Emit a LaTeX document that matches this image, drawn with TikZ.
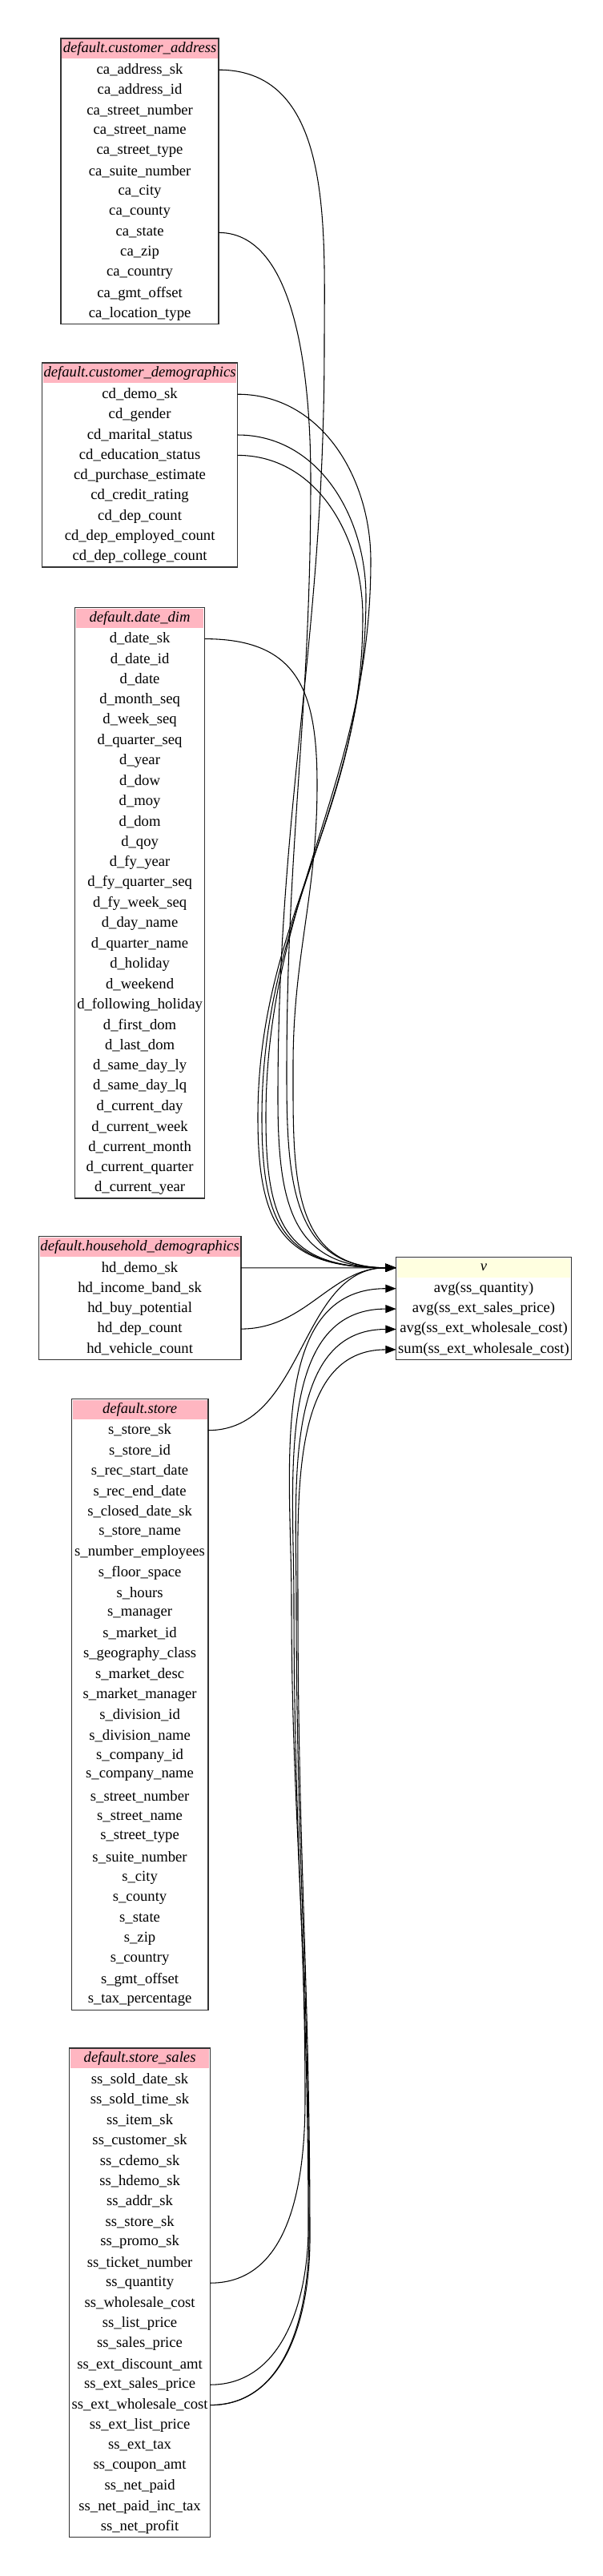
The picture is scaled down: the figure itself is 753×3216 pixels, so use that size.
\documentclass[tikz,border=0pt]{standalone}
\usepackage{fontspec}
\setmainfont{Liberation Serif}
\usetikzlibrary{positioning,arrows.meta}
\definecolor{lightpink}{HTML}{FFB6C1}
\definecolor{lightyellow}{HTML}{FFFFE0}
\newcommand{\tblfont}{\fontsize{14pt}{16pt}\selectfont}

\begin{document}
\begin{tikzpicture}[
    x=0.75pt, y=0.75pt,
    every node/.style={font=\tblfont, inner sep=0pt, outer sep=0pt},
    hdr/.style={anchor=north, minimum height=19.875pt, fill=lightpink, draw=white, line width=2pt, font=\tblfont\itshape},
    fld/.style={minimum height=19.05pt},
    tbl/.style={draw=black!80, line width=1pt},
    edge/.style={-{Triangle[length=10pt,width=7.5pt]}, line width=0.8pt}
]
    \useasboundingbox (0,0) rectangle (753,-3216);

    % customer_address
    \node[hdr, minimum width=147.75pt] (ca0) at (174.6,-48) {default.customer\_address};
    \foreach \f [count=\i, remember=\i as \j (initially 0)] in {ca\_address\_sk, ca\_address\_id, ca\_street\_number, ca\_street\_name, ca\_street\_type, ca\_suite\_number, ca\_city, ca\_county, ca\_state, ca\_zip, ca\_country, ca\_gmt\_offset, ca\_location\_type}
        \node[fld, minimum width=147.75pt, below=0pt of ca\j] (ca\i) {\f};
    \draw[tbl] (ca0.north west) rectangle (ca13.south east);

    % customer_demographics
    \node[hdr, minimum width=183pt] (cd0) at (174.6,-453) {default.customer\_demographics};
    \foreach \f [count=\i, remember=\i as \j (initially 0)] in {cd\_demo\_sk, cd\_gender, cd\_marital\_status, cd\_education\_status, cd\_purchase\_estimate, cd\_credit\_rating, cd\_dep\_count, cd\_dep\_employed\_count, cd\_dep\_college\_count}
        \node[fld, minimum width=183pt, below=0pt of cd\j] (cd\i) {\f};
    \draw[tbl] (cd0.north west) rectangle (cd9.south east);

    % date_dim
    \node[hdr, minimum width=121.5pt] (dd0) at (174.6,-758.4) {default.date\_dim};
    \foreach \f [count=\i, remember=\i as \j (initially 0)] in {d\_date\_sk, d\_date\_id, d\_date, d\_month\_seq, d\_week\_seq, d\_quarter\_seq, d\_year, d\_dow, d\_moy, d\_dom, d\_qoy, d\_fy\_year, d\_fy\_quarter\_seq, d\_fy\_week\_seq, d\_day\_name, d\_quarter\_name, d\_holiday, d\_weekend, d\_following\_holiday, d\_first\_dom, d\_last\_dom, d\_same\_day\_ly, d\_same\_day\_lq, d\_current\_day, d\_current\_week, d\_current\_month, d\_current\_quarter, d\_current\_year}
        \node[fld, minimum width=121.5pt, below=0pt of dd\j] (dd\i) {\f};
    \draw[tbl] (dd0.north west) rectangle (dd28.south east);

    % household_demographics
    \node[hdr, minimum width=189.5pt] (hd0) at (174.6,-1543.7) {default.household\_demographics};
    \foreach \f [count=\i, remember=\i as \j (initially 0)] in {hd\_demo\_sk, hd\_income\_band\_sk, hd\_buy\_potential, hd\_dep\_count, hd\_vehicle\_count}
        \node[fld, minimum width=189.5pt, below=0pt of hd\j] (hd\i) {\f};
    \draw[tbl] (hd0.north west) rectangle (hd5.south east);

    % store
    \node[hdr, minimum width=128pt] (st0) at (174.6,-1746.5) {default.store};
    \foreach \f [count=\i, remember=\i as \j (initially 0)] in {s\_store\_sk, s\_store\_id, s\_rec\_start\_date, s\_rec\_end\_date, s\_closed\_date\_sk, s\_store\_name, s\_number\_employees, s\_floor\_space, s\_hours, s\_manager, s\_market\_id, s\_geography\_class, s\_market\_desc, s\_market\_manager, s\_division\_id, s\_division\_name, s\_company\_id, s\_company\_name, s\_street\_number, s\_street\_name, s\_street\_type, s\_suite\_number, s\_city, s\_county, s\_state, s\_zip, s\_country, s\_gmt\_offset, s\_tax\_percentage}
        \node[fld, minimum width=128pt, below=0pt of st\j] (st\i) {\f};
    \draw[tbl] (st0.north west) rectangle (st29.south east);

    % store_sales
    \node[hdr, minimum width=132pt] (ss0) at (174.6,-2557) {default.store\_sales};
    \foreach \f [count=\i, remember=\i as \j (initially 0)] in {ss\_sold\_date\_sk, ss\_sold\_time\_sk, ss\_item\_sk, ss\_customer\_sk, ss\_cdemo\_sk, ss\_hdemo\_sk, ss\_addr\_sk, ss\_store\_sk, ss\_promo\_sk, ss\_ticket\_number, ss\_quantity, ss\_wholesale\_cost, ss\_list\_price, ss\_sales\_price, ss\_ext\_discount\_amt, ss\_ext\_sales\_price, ss\_ext\_wholesale\_cost, ss\_ext\_list\_price, ss\_ext\_tax, ss\_coupon\_amt, ss\_net\_paid, ss\_net\_paid\_inc\_tax, ss\_net\_profit}
        \node[fld, minimum width=132pt, below=0pt of ss\j] (ss\i) {\f};
    \draw[tbl] (ss0.north west) rectangle (ss23.south east);

    % v
    \node[hdr, fill=lightyellow, minimum width=164pt] (v0) at (604,-1569.5) {v};
    \foreach \f [count=\i, remember=\i as \j (initially 0)] in {avg(ss\_quantity), avg(ss\_ext\_sales\_price), avg(ss\_ext\_wholesale\_cost), sum(ss\_ext\_wholesale\_cost)}
        \node[fld, minimum width=164pt, below=0pt of v\j] (v\i) {\f};
    \draw[tbl] (v0.north west) rectangle (v4.south east);

    % lineage edges
    \draw[edge] (ca1.east) to[out=0,in=90] (405,-430) to[out=-90,in=90] (347,-1370) to[out=-90,in=180,looseness=1.3] (v0.west);
    \draw[edge] (ca9.east) to[out=0,in=90,looseness=0.8] (388,-600) to[out=-90,in=90] (358,-1340) to[out=-90,in=180,looseness=1.2] (v0.west);
    \draw[edge] (cd1.east) to[out=0,in=90] (463,-700) to[out=-90,in=90] (332,-1395) to[out=-90,in=180,looseness=1.4] (v0.west);
    \draw[edge] (cd3.east) to[out=0,in=90] (457,-745) to[out=-90,in=90] (327,-1395) to[out=-90,in=180,looseness=1.4] (v0.west);
    \draw[edge] (cd4.east) to[out=0,in=90] (453,-770) to[out=-90,in=90] (322,-1395) to[out=-90,in=180,looseness=1.4] (v0.west);
    \draw[edge] (dd1.east) to[out=0,in=90,looseness=1.3] (396,-980) to[out=-90,in=90] (366,-1330) to[out=-90,in=180,looseness=1.2] (v0.west);
    \draw[edge] (hd1.east) -- (v0.west);
    \draw[edge] (hd4.east) to[out=0,in=180] (v0.west);
    \draw[edge] (st1.east) to[out=0,in=180] (v0.west);
    \draw[edge] (ss11.east) to[out=0,in=-90] (381,-2620) to[out=90,in=-90] (364,-2000) to[out=90,in=180] (v1.west);
    \draw[edge] (ss16.east) to[out=0,in=-90] (385,-2780) to[out=90,in=-90] (367,-2000) to[out=90,in=180] (v2.west);
    \draw[edge] (ss17.east) to[out=0,in=-90] (386,-2790) to[out=90,in=-90] (370,-2000) to[out=90,in=180] (v3.west);
    \draw[edge] (ss17.east) to[out=0,in=-90] (387,-2795) to[out=90,in=-90] (372,-2000) to[out=90,in=180] (v4.west);
\end{tikzpicture}
\end{document}
